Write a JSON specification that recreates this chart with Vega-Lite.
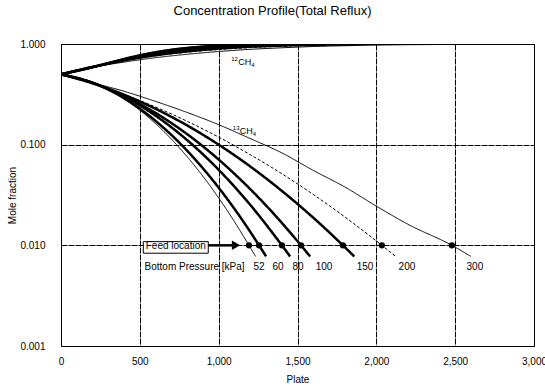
{
  "$schema": "https://vega.github.io/schema/vega-lite/v6.json",
  "width": 473,
  "height": 302,
  "autosize": {"type": "none"},
  "padding": {"left": 61, "top": 44, "right": 11, "bottom": 41},
  "background": "white",
  "title": {"text": "Concentration Profile(Total Reflux)", "fontSize": 13, "fontWeight": "normal", "font": "Liberation Sans", "color": "black", "anchor": "middle", "dx": -25, "offset": 21},
  "config": {
    "font": "Liberation Sans",
    "view": {"stroke": "black", "strokeWidth": 1},
    "axis": {"domain": false, "ticks": false, "tickSize": 0, "grid": true, "gridColor": "black", "gridDash": [6, 1], "gridOpacity": 1, "gridWidth": 1, "labelColor": "black", "labelFontSize": 10, "titleFontSize": 10, "titleFontWeight": "normal", "titleColor": "black", "labelFlush": false}
  },
  "datasets": {
    "curves": [
      {"id":"13-52","p":"52","plate":0,"frac":0.5},{"id":"13-52","p":"52","plate":200,"frac":0.415},{"id":"13-52","p":"52","plate":400,"frac":0.2847},{"id":"13-52","p":"52","plate":600,"frac":0.1618},{"id":"13-52","p":"52","plate":800,"frac":0.076},{"id":"13-52","p":"52","plate":1000,"frac":0.0296},{"id":"13-52","p":"52","plate":1100,"frac":0.01718},{"id":"13-52","p":"52","plate":1192,"frac":0.01},{"id":"13-52","p":"52","plate":1234,"frac":0.00776},
      {"id":"13-60","p":"60","plate":0,"frac":0.5},{"id":"13-60","p":"60","plate":200,"frac":0.4127},{"id":"13-60","p":"60","plate":400,"frac":0.2892},{"id":"13-60","p":"60","plate":600,"frac":0.1722},{"id":"13-60","p":"60","plate":800,"frac":0.0871},{"id":"13-60","p":"60","plate":1000,"frac":0.0374},{"id":"13-60","p":"60","plate":1200,"frac":0.01365},{"id":"13-60","p":"60","plate":1256,"frac":0.01},{"id":"13-60","p":"60","plate":1301,"frac":0.00776},
      {"id":"13-80","p":"80","plate":0,"frac":0.5},{"id":"13-80","p":"80","plate":200,"frac":0.4118},{"id":"13-80","p":"80","plate":400,"frac":0.3003},{"id":"13-80","p":"80","plate":600,"frac":0.194},{"id":"13-80","p":"80","plate":800,"frac":0.111},{"id":"13-80","p":"80","plate":1000,"frac":0.0563},{"id":"13-80","p":"80","plate":1200,"frac":0.02527},{"id":"13-80","p":"80","plate":1401,"frac":0.01},{"id":"13-80","p":"80","plate":1453,"frac":0.00776},
      {"id":"13-100","p":"100","plate":0,"frac":0.5},{"id":"13-100","p":"100","plate":200,"frac":0.4096},{"id":"13-100","p":"100","plate":400,"frac":0.305},{"id":"13-100","p":"100","plate":600,"frac":0.2065},{"id":"13-100","p":"100","plate":800,"frac":0.1272},{"id":"13-100","p":"100","plate":1000,"frac":0.0712},{"id":"13-100","p":"100","plate":1200,"frac":0.0362},{"id":"13-100","p":"100","plate":1400,"frac":0.01677},{"id":"13-100","p":"100","plate":1522,"frac":0.01},{"id":"13-100","p":"100","plate":1580,"frac":0.00776},
      {"id":"13-150","p":"150","plate":0,"frac":0.5},{"id":"13-150","p":"150","plate":200,"frac":0.4076},{"id":"13-150","p":"150","plate":400,"frac":0.3133},{"id":"13-150","p":"150","plate":600,"frac":0.2271},{"id":"13-150","p":"150","plate":800,"frac":0.1552},{"id":"13-150","p":"150","plate":1000,"frac":0.1},{"id":"13-150","p":"150","plate":1200,"frac":0.0608},{"id":"13-150","p":"150","plate":1400,"frac":0.0348},{"id":"13-150","p":"150","plate":1600,"frac":0.01882},{"id":"13-150","p":"150","plate":1788,"frac":0.01},{"id":"13-150","p":"150","plate":1860,"frac":0.00776},
      {"id":"13-200","p":"200","plate":0,"frac":0.5},{"id":"13-200","p":"200","plate":200,"frac":0.4045},{"id":"13-200","p":"200","plate":400,"frac":0.315},{"id":"13-200","p":"200","plate":600,"frac":0.2364},{"id":"13-200","p":"200","plate":800,"frac":0.1708},{"id":"13-200","p":"200","plate":1000,"frac":0.1189},{"id":"13-200","p":"200","plate":1200,"frac":0.0796},{"id":"13-200","p":"200","plate":1400,"frac":0.0515},{"id":"13-200","p":"200","plate":1600,"frac":0.032},{"id":"13-200","p":"200","plate":1800,"frac":0.01916},{"id":"13-200","p":"200","plate":2035,"frac":0.01},{"id":"13-200","p":"200","plate":2123,"frac":0.00776},
      {"id":"13-300","p":"300","plate":0,"frac":0.5},{"id":"13-300","p":"300","plate":200,"frac":0.412},{"id":"13-300","p":"300","plate":400,"frac":0.339},{"id":"13-300","p":"300","plate":600,"frac":0.269},{"id":"13-300","p":"300","plate":800,"frac":0.209},{"id":"13-300","p":"300","plate":1000,"frac":0.158},{"id":"13-300","p":"300","plate":1200,"frac":0.115},{"id":"13-300","p":"300","plate":1400,"frac":0.083},{"id":"13-300","p":"300","plate":1600,"frac":0.0555},{"id":"13-300","p":"300","plate":1800,"frac":0.038},{"id":"13-300","p":"300","plate":2000,"frac":0.0245},{"id":"13-300","p":"300","plate":2200,"frac":0.0162},{"id":"13-300","p":"300","plate":2479,"frac":0.01},{"id":"13-300","p":"300","plate":2600,"frac":0.00776},
      {"id":"12-52","p":"52","plate":0,"frac":0.5},{"id":"12-52","p":"52","plate":200,"frac":0.585},{"id":"12-52","p":"52","plate":400,"frac":0.7153},{"id":"12-52","p":"52","plate":600,"frac":0.8382},{"id":"12-52","p":"52","plate":800,"frac":0.924},{"id":"12-52","p":"52","plate":1000,"frac":0.9704},{"id":"12-52","p":"52","plate":1100,"frac":0.98282},{"id":"12-52","p":"52","plate":1192,"frac":0.99},{"id":"12-52","p":"52","plate":1234,"frac":0.99224},
      {"id":"12-60","p":"60","plate":0,"frac":0.5},{"id":"12-60","p":"60","plate":200,"frac":0.5873},{"id":"12-60","p":"60","plate":400,"frac":0.7108},{"id":"12-60","p":"60","plate":600,"frac":0.8278},{"id":"12-60","p":"60","plate":800,"frac":0.9129},{"id":"12-60","p":"60","plate":1000,"frac":0.9626},{"id":"12-60","p":"60","plate":1200,"frac":0.98635},{"id":"12-60","p":"60","plate":1256,"frac":0.99},{"id":"12-60","p":"60","plate":1301,"frac":0.99224},
      {"id":"12-80","p":"80","plate":0,"frac":0.5},{"id":"12-80","p":"80","plate":200,"frac":0.5882},{"id":"12-80","p":"80","plate":400,"frac":0.6997},{"id":"12-80","p":"80","plate":600,"frac":0.806},{"id":"12-80","p":"80","plate":800,"frac":0.889},{"id":"12-80","p":"80","plate":1000,"frac":0.9437},{"id":"12-80","p":"80","plate":1200,"frac":0.97473},{"id":"12-80","p":"80","plate":1401,"frac":0.99},{"id":"12-80","p":"80","plate":1453,"frac":0.99224},
      {"id":"12-100","p":"100","plate":0,"frac":0.5},{"id":"12-100","p":"100","plate":200,"frac":0.5904},{"id":"12-100","p":"100","plate":400,"frac":0.695},{"id":"12-100","p":"100","plate":600,"frac":0.7935},{"id":"12-100","p":"100","plate":800,"frac":0.8728},{"id":"12-100","p":"100","plate":1000,"frac":0.9288},{"id":"12-100","p":"100","plate":1200,"frac":0.9638},{"id":"12-100","p":"100","plate":1400,"frac":0.98323},{"id":"12-100","p":"100","plate":1522,"frac":0.99},{"id":"12-100","p":"100","plate":1580,"frac":0.99224},
      {"id":"12-150","p":"150","plate":0,"frac":0.5},{"id":"12-150","p":"150","plate":200,"frac":0.5924},{"id":"12-150","p":"150","plate":400,"frac":0.6867},{"id":"12-150","p":"150","plate":600,"frac":0.7729},{"id":"12-150","p":"150","plate":800,"frac":0.8448},{"id":"12-150","p":"150","plate":1000,"frac":0.9},{"id":"12-150","p":"150","plate":1200,"frac":0.9392},{"id":"12-150","p":"150","plate":1400,"frac":0.9652},{"id":"12-150","p":"150","plate":1600,"frac":0.98118},{"id":"12-150","p":"150","plate":1788,"frac":0.99},{"id":"12-150","p":"150","plate":1860,"frac":0.99224},
      {"id":"12-200","p":"200","plate":0,"frac":0.5},{"id":"12-200","p":"200","plate":200,"frac":0.5955},{"id":"12-200","p":"200","plate":400,"frac":0.685},{"id":"12-200","p":"200","plate":600,"frac":0.7636},{"id":"12-200","p":"200","plate":800,"frac":0.8292},{"id":"12-200","p":"200","plate":1000,"frac":0.8811},{"id":"12-200","p":"200","plate":1200,"frac":0.9204},{"id":"12-200","p":"200","plate":1400,"frac":0.9485},{"id":"12-200","p":"200","plate":1600,"frac":0.968},{"id":"12-200","p":"200","plate":1800,"frac":0.98084},{"id":"12-200","p":"200","plate":2035,"frac":0.99},{"id":"12-200","p":"200","plate":2123,"frac":0.99224},
      {"id":"12-300","p":"300","plate":0,"frac":0.5},{"id":"12-300","p":"300","plate":200,"frac":0.588},{"id":"12-300","p":"300","plate":400,"frac":0.661},{"id":"12-300","p":"300","plate":600,"frac":0.731},{"id":"12-300","p":"300","plate":800,"frac":0.791},{"id":"12-300","p":"300","plate":1000,"frac":0.842},{"id":"12-300","p":"300","plate":1200,"frac":0.885},{"id":"12-300","p":"300","plate":1400,"frac":0.917},{"id":"12-300","p":"300","plate":1600,"frac":0.9445},{"id":"12-300","p":"300","plate":1800,"frac":0.962},{"id":"12-300","p":"300","plate":2000,"frac":0.9755},{"id":"12-300","p":"300","plate":2200,"frac":0.9838},{"id":"12-300","p":"300","plate":2479,"frac":0.99},{"id":"12-300","p":"300","plate":2600,"frac":0.99224}
    ],
    "feeds": [
      {"p":"52","plate":1192,"frac":0.01},{"p":"60","plate":1256,"frac":0.01},{"p":"80","plate":1401,"frac":0.01},{"p":"100","plate":1522,"frac":0.01},{"p":"150","plate":1788,"frac":0.01},{"p":"200","plate":2035,"frac":0.01},{"p":"300","plate":2479,"frac":0.01}
    ],
    "plabels": [
      {"label":"52","plate":1256,"frac":0.00615},{"label":"60","plate":1376,"frac":0.00615},{"label":"80","plate":1503,"frac":0.00615},{"label":"100","plate":1668,"frac":0.00615},{"label":"150","plate":1928,"frac":0.00615},{"label":"200","plate":2194,"frac":0.00615},{"label":"300","plate":2625,"frac":0.00615}
    ],
    "notes": [
      {"label":"Bottom Pressure [kPa]","plate":530,"frac":0.00615}
    ],
    "iso": [
      {"mass":"12","plate":1080,"frac":0.66},
      {"mass":"13","plate":1090,"frac":0.137}
    ],
    "feedbox": [{"label":"Feed location","plate":522,"plate2":934,"frac":0.01088,"frac2":0.00835,"mid":728,"fy":0.00977}],
    "arrow": [{"plate":934,"plate2":1110,"frac":0.01}],
    "arrowhead": [{"plate":1110,"frac":0.01}]
  },
  "layer": [
    {
      "data": {"name": "curves"},
      "mark": {"type": "line", "color": "black", "clip": true, "interpolate": "monotone"},
      "encoding": {
        "x": {"field": "plate", "type": "quantitative", "scale": {"domain": [0, 3000], "nice": false, "zero": false},
              "axis": {"values": [0, 500, 1000, 1500, 2000, 2500, 3000], "format": ",d", "title": "Plate", "labelPadding": 10, "titlePadding": 8}},
        "y": {"field": "frac", "type": "quantitative", "scale": {"type": "log", "domain": [0.001, 1], "nice": false},
              "axis": {"values": [0.001, 0.01, 0.1, 1], "format": ".3f", "title": "Mole fraction", "labelPadding": 16, "titlePadding": 2}},
        "detail": {"field": "id", "type": "nominal"},
        "strokeWidth": {"field": "p", "type": "nominal", "legend": null,
              "scale": {"type": "ordinal", "domain": ["52","60","80","100","150","200","300"], "range": [1, 2.5, 2.5, 2.5, 2.5, 1, 1]}},
        "strokeDash": {"field": "p", "type": "nominal", "legend": null,
              "scale": {"domain": ["52","60","80","100","150","200","300"], "range": [[1,0],[1,0],[1,0],[1,0],[1,0],[3,2],[1,0]]}}
      }
    },
    {
      "data": {"name": "feeds"},
      "mark": {"type": "point", "filled": true, "shape": "circle", "size": 40, "color": "black", "opacity": 1},
      "encoding": {
        "x": {"field": "plate", "type": "quantitative"},
        "y": {"field": "frac", "type": "quantitative"}
      }
    },
    {
      "data": {"name": "plabels"},
      "mark": {"type": "text", "font": "Liberation Sans Narrow, Liberation Sans, sans-serif", "fontSize": 10, "color": "black", "align": "center", "baseline": "middle"},
      "encoding": {
        "x": {"field": "plate", "type": "quantitative"},
        "y": {"field": "frac", "type": "quantitative"},
        "text": {"field": "label"}
      }
    },
    {
      "data": {"name": "notes"},
      "mark": {"type": "text", "font": "Liberation Sans Narrow, Liberation Sans, sans-serif", "fontSize": 10, "color": "black", "align": "left", "baseline": "middle"},
      "encoding": {
        "x": {"field": "plate", "type": "quantitative"},
        "y": {"field": "frac", "type": "quantitative"},
        "text": {"field": "label"}
      }
    },
    {
      "data": {"name": "iso"},
      "mark": {"type": "text", "font": "Liberation Sans", "fontSize": 6, "color": "black", "align": "left", "baseline": "middle", "dy": -3},
      "encoding": {
        "x": {"field": "plate", "type": "quantitative"},
        "y": {"field": "frac", "type": "quantitative"},
        "text": {"field": "mass"}
      }
    },
    {
      "data": {"name": "iso"},
      "mark": {"type": "text", "font": "Liberation Sans", "fontSize": 9, "color": "black", "align": "left", "baseline": "middle", "dx": 7, "text": "CH"},
      "encoding": {
        "x": {"field": "plate", "type": "quantitative"},
        "y": {"field": "frac", "type": "quantitative"}
      }
    },
    {
      "data": {"name": "iso"},
      "mark": {"type": "text", "font": "Liberation Sans", "fontSize": 6, "color": "black", "align": "left", "baseline": "middle", "dx": 20, "dy": 3, "text": "4"},
      "encoding": {
        "x": {"field": "plate", "type": "quantitative"},
        "y": {"field": "frac", "type": "quantitative"}
      }
    },
    {
      "data": {"name": "feedbox"},
      "mark": {"type": "rect", "fill": "white", "stroke": "black", "strokeWidth": 1},
      "encoding": {
        "x": {"field": "plate", "type": "quantitative"},
        "x2": {"field": "plate2"},
        "y": {"field": "frac", "type": "quantitative"},
        "y2": {"field": "frac2"}
      }
    },
    {
      "data": {"name": "feedbox"},
      "mark": {"type": "text", "font": "Liberation Sans Narrow, Liberation Sans, sans-serif", "fontSize": 10, "color": "black", "align": "center", "baseline": "middle"},
      "encoding": {
        "x": {"field": "mid", "type": "quantitative"},
        "y": {"field": "fy", "type": "quantitative"},
        "text": {"field": "label"}
      }
    },
    {
      "data": {"name": "arrow"},
      "mark": {"type": "rule", "color": "black", "strokeWidth": 2.5},
      "encoding": {
        "x": {"field": "plate", "type": "quantitative"},
        "x2": {"field": "plate2"},
        "y": {"field": "frac", "type": "quantitative"}
      }
    },
    {
      "data": {"name": "arrowhead"},
      "mark": {"type": "point", "shape": "triangle-right", "filled": true, "size": 90, "color": "black", "opacity": 1},
      "encoding": {
        "x": {"field": "plate", "type": "quantitative"},
        "y": {"field": "frac", "type": "quantitative"}
      }
    }
  ]
}
